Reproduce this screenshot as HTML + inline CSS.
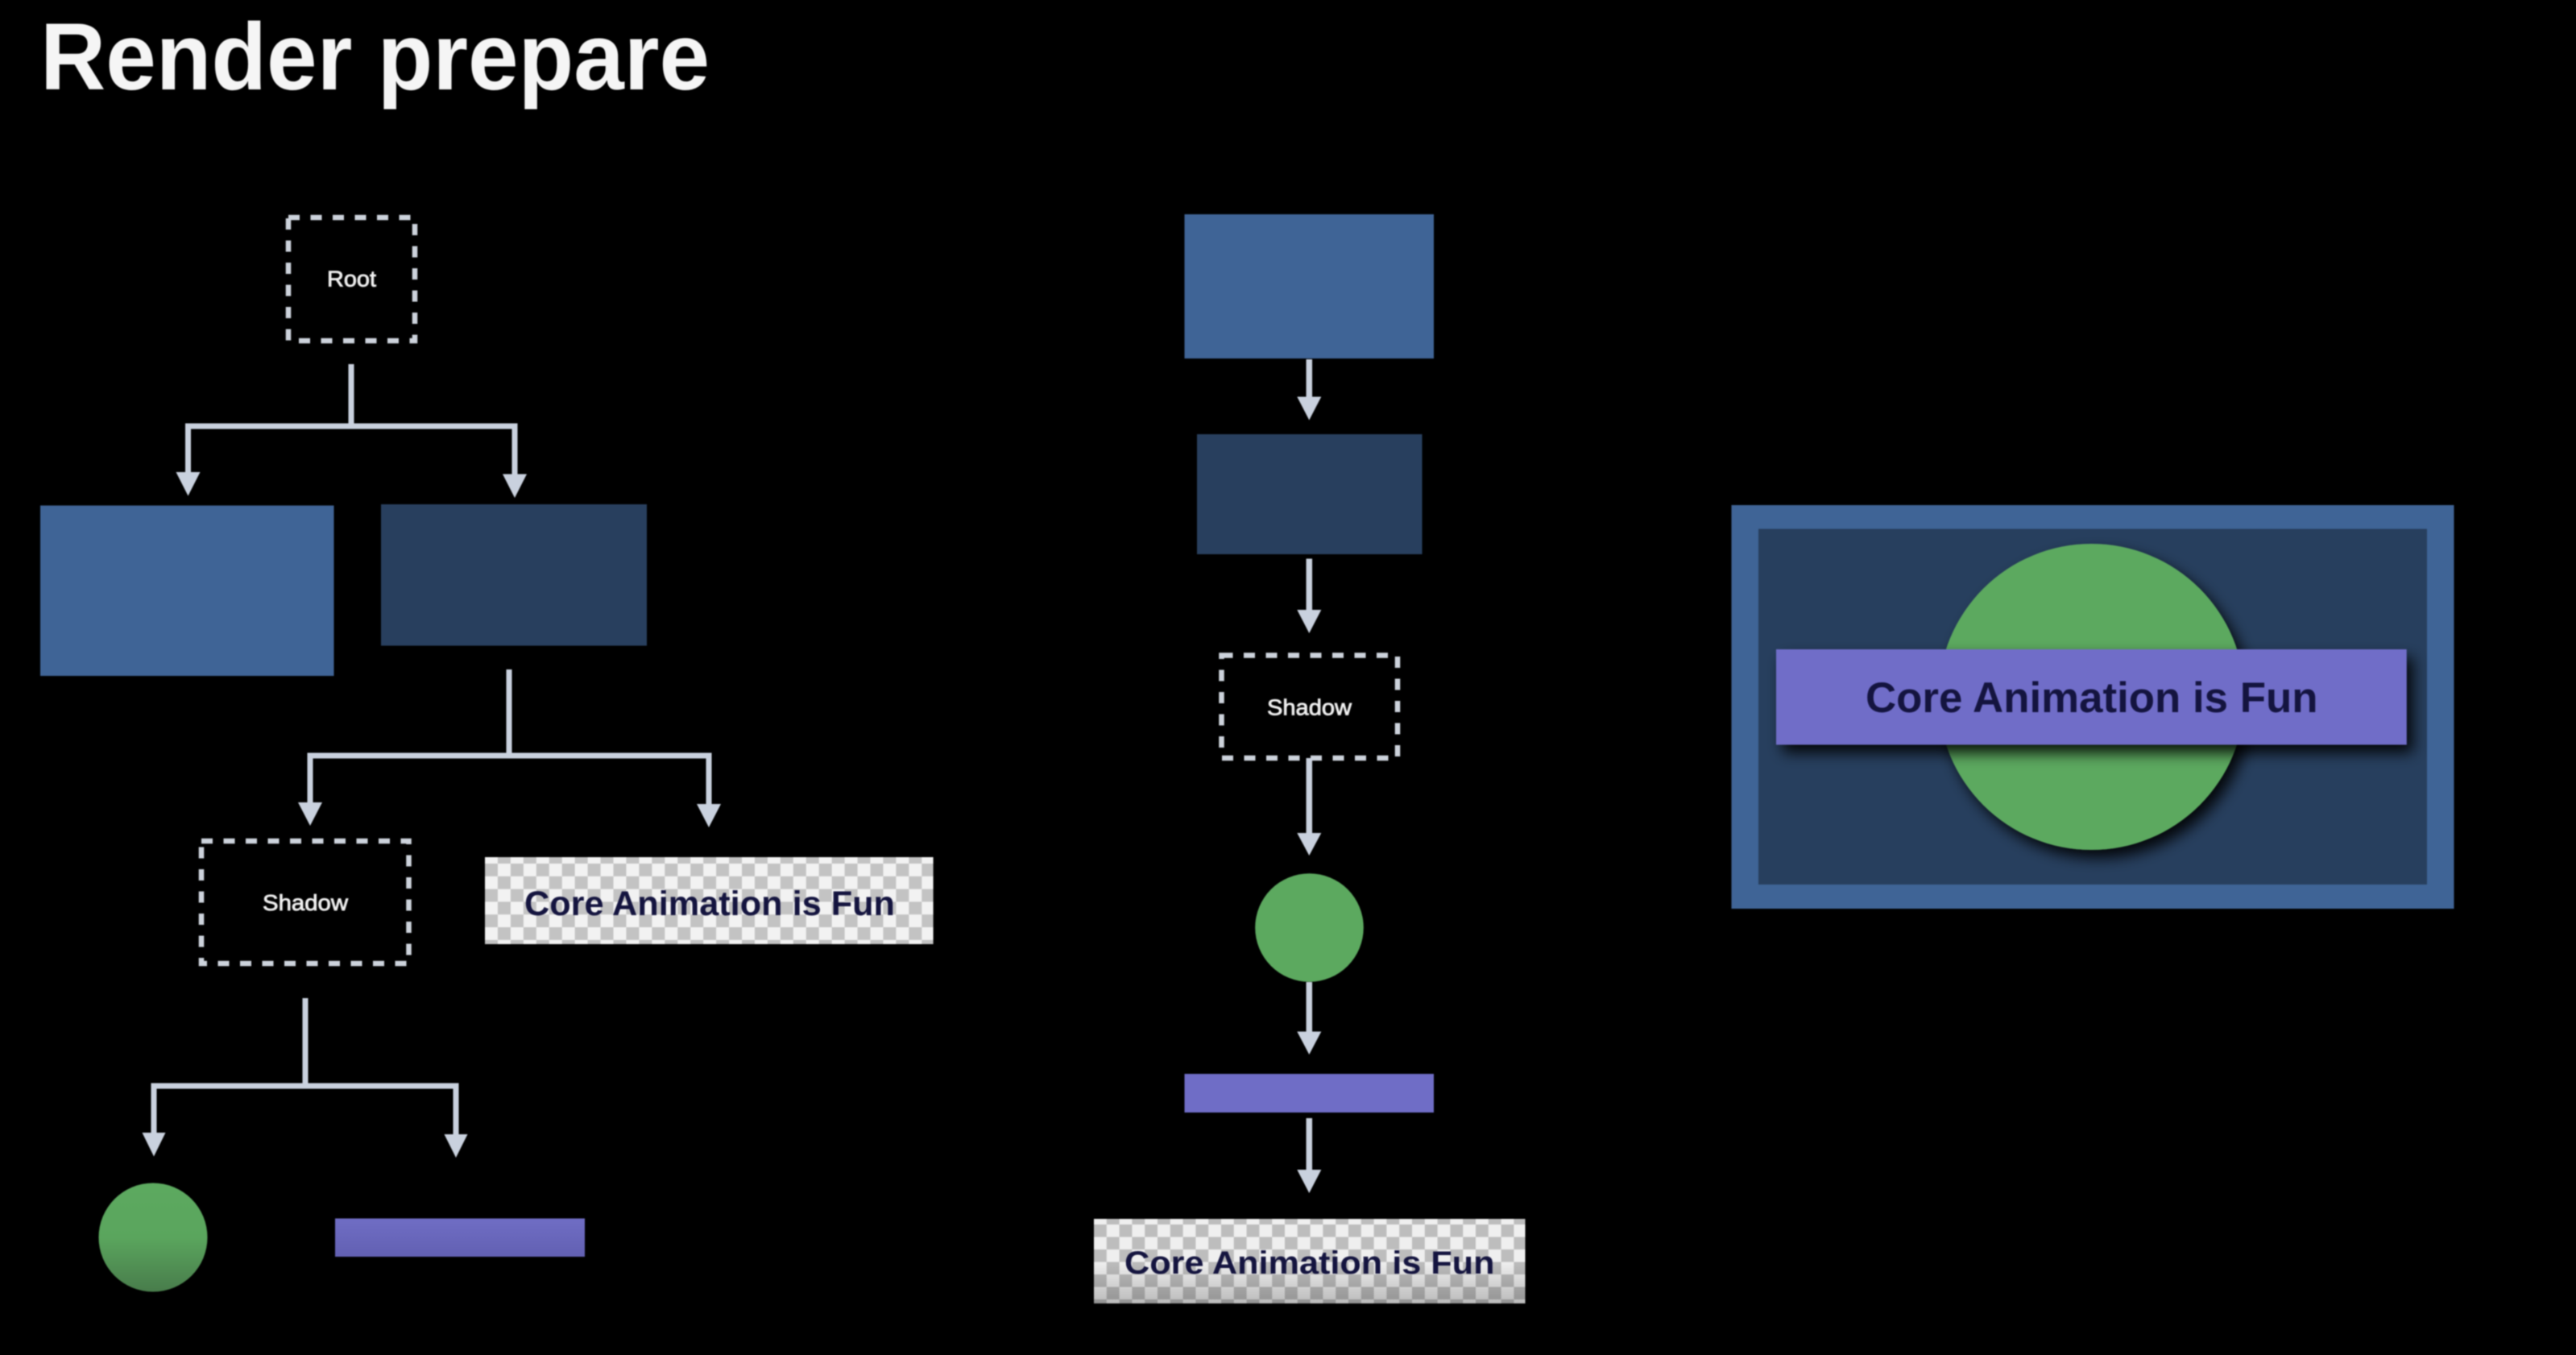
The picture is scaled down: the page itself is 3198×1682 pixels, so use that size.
<!DOCTYPE html>
<html>
<head>
<meta charset="utf-8">
<title>Render prepare</title>
<style>
html,body{margin:0;padding:0;background:#000;width:3198px;height:1682px;overflow:hidden}
svg{display:block;filter:blur(0.7px)}
text{font-family:"Liberation Sans",sans-serif}
</style>
</head>
<body>
<svg xmlns="http://www.w3.org/2000/svg" width="3198" height="1682" viewBox="0 0 3198 1682">
<defs>
<pattern id="chk" x="602" y="1072" width="31.9" height="31.6" patternUnits="userSpaceOnUse">
<rect width="31.9" height="31.6" fill="#f2f2f2"/>
<rect width="15.95" height="15.8" fill="#c3c3c3"/>
<rect x="15.95" y="15.8" width="15.95" height="15.8" fill="#c3c3c3"/>
</pattern>
<pattern id="chk2" x="1358" y="1520" width="31.6" height="31" patternUnits="userSpaceOnUse">
<rect width="31.6" height="31" fill="#efefef"/>
<rect width="15.8" height="15.5" fill="#bdbdbd"/>
<rect x="15.8" y="15.5" width="15.8" height="15.5" fill="#bdbdbd"/>
</pattern>
<linearGradient id="chkfade" x1="0" y1="0" x2="0" y2="1">
<stop offset="0" stop-color="#000" stop-opacity="0"/>
<stop offset="0.5" stop-color="#000" stop-opacity="0"/>
<stop offset="1" stop-color="#000" stop-opacity="0.22"/>
</linearGradient>
<linearGradient id="greenfade" x1="0" y1="0" x2="0" y2="1">
<stop offset="0" stop-color="#5ca95f"/>
<stop offset="0.5" stop-color="#5aa55d"/>
<stop offset="1" stop-color="#487c4b"/>
</linearGradient>
<linearGradient id="purplefade" x1="0" y1="0" x2="0" y2="1">
<stop offset="0" stop-color="#6f6dc4"/>
<stop offset="1" stop-color="#6260b2"/>
</linearGradient>
<filter id="ds" x="-20%" y="-30%" width="140%" height="170%">
<feDropShadow dx="8" dy="10" stdDeviation="9" flood-color="#000" flood-opacity="0.9"/>
</filter>
</defs>

<rect width="3198" height="1682" fill="#000"/>

<text x="50" y="111" font-size="118" font-weight="700" fill="#f5f5f5" textLength="831" lengthAdjust="spacingAndGlyphs">Render prepare</text>

<!-- Left tree -->
<rect x="358" y="270" width="157" height="153" fill="none" stroke="#cdd3dc" stroke-width="6.5" stroke-dasharray="14 13.5"/>
<text x="406" y="355.5" font-size="28" fill="#f0f0f0" stroke="#f0f0f0" stroke-width="0.8" textLength="61" lengthAdjust="spacingAndGlyphs">Root</text>

<g fill="none" stroke="#c9d1de" stroke-width="7">
<path d="M436 452V529"/>
<path d="M233.5 590V529H639V592"/>
<path d="M632 831V938"/>
<path d="M385 1000V938H880V1002"/>
<path d="M379 1239V1348"/>
<path d="M191 1410V1348H566V1412"/>
</g>
<g fill="#c9d1de">
<polygon points="218.5,586 248.5,586 233.5,615.5"/>
<polygon points="624,588.5 654,588.5 639,618"/>
<polygon points="370,996 400,996 385,1025"/>
<polygon points="865,998 895,998 880,1027"/>
<polygon points="176.5,1406 205.5,1406 191,1435.5"/>
<polygon points="551.5,1408 580.5,1408 566,1437"/>
</g>

<rect x="50" y="627.5" width="364.5" height="211.5" fill="#3f6496"/>
<rect x="473" y="626" width="330" height="175.5" fill="#283f5e"/>

<rect x="250" y="1044" width="257.5" height="152" fill="none" stroke="#cdd3dc" stroke-width="6.5" stroke-dasharray="14 13.5"/>
<text x="326" y="1130" font-size="28" fill="#f0f0f0" stroke="#f0f0f0" stroke-width="0.8" textLength="106" lengthAdjust="spacingAndGlyphs">Shadow</text>

<rect x="602" y="1064" width="556.6" height="108" fill="url(#chk)"/>
<text x="651" y="1136" font-size="42.5" font-weight="700" fill="#14143f" textLength="460" lengthAdjust="spacingAndGlyphs">Core Animation is Fun</text>

<circle cx="190" cy="1536" r="67.5" fill="url(#greenfade)"/>
<rect x="416" y="1512.5" width="310" height="47.5" fill="url(#purplefade)"/>

<!-- Middle column -->
<rect x="1470.5" y="266" width="309.5" height="179" fill="#3f6496"/>
<rect x="1486" y="539" width="279.5" height="149" fill="#283f5e"/>
<rect x="1516.5" y="813.5" width="218.5" height="127.5" fill="none" stroke="#cdd3dc" stroke-width="6.5" stroke-dasharray="14 13.5"/>
<text x="1573" y="887.5" font-size="28" fill="#f0f0f0" stroke="#f0f0f0" stroke-width="0.8" textLength="105" lengthAdjust="spacingAndGlyphs">Shadow</text>
<circle cx="1625.5" cy="1151.5" r="67.3" fill="#5ca95f"/>
<rect x="1470.5" y="1333" width="309.5" height="48" fill="#6f6dc6"/>
<rect x="1358" y="1513" width="535.5" height="105" fill="url(#chk2)"/>
<rect x="1358" y="1513" width="535.5" height="105" fill="url(#chkfade)"/>
<text x="1396" y="1581" font-size="40" font-weight="700" fill="#14143f" textLength="459.5" lengthAdjust="spacingAndGlyphs">Core Animation is Fun</text>

<g fill="none" stroke="#c9d1de" stroke-width="7.5">
<path d="M1625.3 446V496"/>
<path d="M1625.3 693.5V760"/>
<path d="M1625.3 941V1037"/>
<path d="M1625.3 1219V1284"/>
<path d="M1625.3 1388V1455"/>
</g>
<g fill="#c9d1de">
<polygon points="1610.3,492.5 1640.3,492.5 1625.3,521.5"/>
<polygon points="1610.3,757 1640.3,757 1625.3,786"/>
<polygon points="1610.3,1034 1640.3,1034 1625.3,1062"/>
<polygon points="1610.3,1280.5 1640.3,1280.5 1625.3,1309"/>
<polygon points="1610.3,1452 1640.3,1452 1625.3,1481"/>
</g>

<!-- Right composite -->
<rect x="2149.5" y="627" width="897" height="501" fill="#3f6496"/>
<rect x="2183" y="656.5" width="830" height="441.5" fill="#273f5e"/>
<circle cx="2596.5" cy="865" r="190" fill="#5ca95f" filter="url(#ds)"/>
<rect x="2205" y="806" width="782.7" height="118.5" fill="#706dc8" filter="url(#ds)"/>
<text x="2316" y="884" font-size="52.5" font-weight="700" fill="#14143f" textLength="561.5" lengthAdjust="spacingAndGlyphs">Core Animation is Fun</text>
</svg>
</body>
</html>
